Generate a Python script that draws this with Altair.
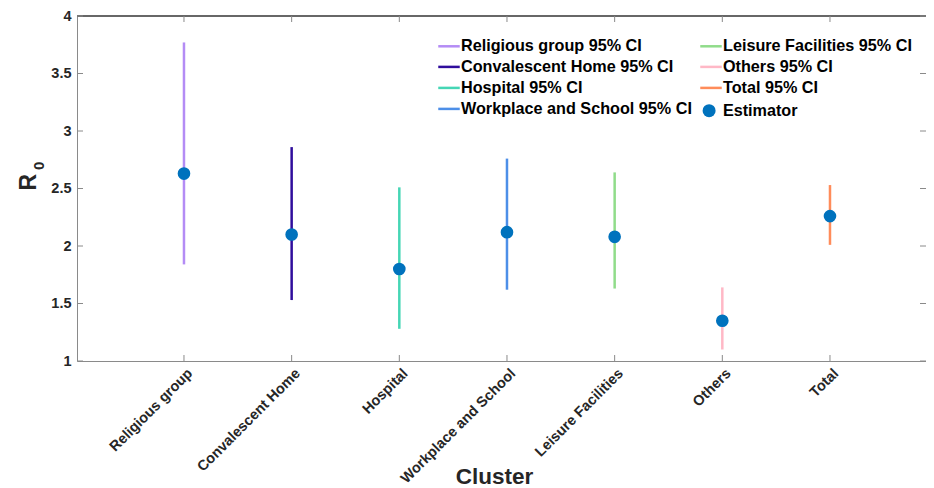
import altair as alt
import pandas as pd

# ---- data ----
clusters = ["Religious group", "Convalescent Home", "Hospital",
            "Workplace and School", "Leisure Facilities", "Others", "Total"]
estimate = [2.63, 2.10, 1.80, 2.12, 2.08, 1.35, 2.26]
ci_low = [1.84, 1.53, 1.28, 1.62, 1.63, 1.10, 2.01]
ci_high = [3.77, 2.86, 2.51, 2.76, 2.64, 1.64, 2.53]
ci_colors = ["#b48cf5", "#2f0d9c", "#45d6b5", "#4d8fe8", "#90dc8a", "#ffb8c6", "#ff8c5a"]
estimator_label = "Estimator"
estimator_color = "#0072BD"
y_ticks = [1, 1.5, 2, 2.5, 3, 3.5, 4]
y_title_main = "R"
y_title_sub = "0"

ci_labels = [c + " 95% CI" for c in clusters]
df = pd.DataFrame({"cluster": clusters, "est": estimate, "lo": ci_low, "hi": ci_high,
                   "ci": ci_labels, "pt": [estimator_label] * len(clusters)})
yt = pd.DataFrame({"v": y_ticks})
xt = pd.DataFrame({"cluster": clusters})
sub_df = pd.DataFrame({"t": [y_title_sub]})

W, H = 849, 345
FONT = "Liberation Sans"
TXT = "#262626"
AX = "#8a8a8a"

xscale = alt.Scale(type="point", domain=clusters, padding=0.9427, align=0.527)
yscale = alt.Scale(domain=[1, 4], nice=False, zero=False)

x_axis = alt.Axis(title="Cluster", labelAngle=-45, labelAlign="right", labelBaseline="middle",
                  labelPadding=10, labelOffset=6, ticks=False, tickSize=0, grid=False,
                  domainColor=AX, labelFont=FONT, labelFontSize=14.5, labelFontWeight="bold",
                  labelColor=TXT, titleFont=FONT, titleFontSize=22.5, titleFontWeight="bold",
                  titleColor=TXT, titleX=417, titleY=115, titleBaseline="middle",
                  titleAlign="center")
y_axis = alt.Axis(title=y_title_main, values=y_ticks, format="~g", ticks=False, tickSize=0,
                  grid=False, domainColor=AX, labelFont=FONT, labelFontSize=14.5,
                  labelFontWeight="bold", labelColor=TXT, labelPadding=6, labelFlush=False,
                  titleFont=FONT, titleFontSize=23, titleFontWeight="bold",
                  titleColor=TXT, titleAngle=270, titleX=-42, titleY=174, titleAlign="left",
                  titleBaseline="alphabetic")

ci_legend = alt.Legend(
    title=None, orient="none", legendX=360, legendY=17.9, columns=2, direction="vertical",
    columnPadding=3, rowPadding=-0.3, padding=0,
    symbolType="stroke", symbolSize=462, symbolStrokeWidth=2.5,
    labelFont=FONT, labelFontSize=16.2, labelFontWeight="bold", labelColor="#000000",
    labelOffset=0, labelLimit=400,
)
est_legend = alt.Legend(
    title=None, orient="none", legendX=624, legendY=86.6, padding=0,
    symbolType="circle", symbolSize=169, symbolStrokeWidth=0,
    symbolFillColor=estimator_color,
    labelFont=FONT, labelFontSize=16.2, labelFontWeight="bold", labelColor="#000000",
    labelOffset=5.7, labelLimit=400,
)

X = alt.X("cluster:N", scale=xscale, axis=x_axis, sort=clusters)

rules = alt.Chart(df).mark_rule(strokeWidth=2.5).encode(
    x=X,
    y=alt.Y("lo:Q", scale=yscale, axis=y_axis),
    y2="hi:Q",
    color=alt.Color("ci:N", scale=alt.Scale(domain=ci_labels, range=ci_colors),
                    legend=ci_legend),
)
points = alt.Chart(df).mark_circle(size=160, opacity=1).encode(
    x=X,
    y=alt.Y("est:Q", scale=yscale, axis=y_axis),
    color=alt.Color("pt:N", scale=alt.Scale(domain=[estimator_label], range=[estimator_color]),
                    legend=est_legend),
)

TK = 6
tick_left = alt.Chart(yt).mark_rule(color=AX, strokeWidth=1).encode(
    y=alt.Y("v:Q", scale=yscale, axis=y_axis), x=alt.value(0), x2=alt.value(TK))
tick_right = alt.Chart(yt).mark_rule(color=AX, strokeWidth=1).encode(
    y=alt.Y("v:Q", scale=yscale, axis=y_axis), x=alt.value(W - TK), x2=alt.value(W))
tick_bottom = alt.Chart(xt).mark_rule(color=AX, strokeWidth=1).encode(
    x=X, y=alt.value(H - TK), y2=alt.value(H))
tick_top = alt.Chart(xt).mark_rule(color=AX, strokeWidth=1).encode(
    x=X, y=alt.value(0), y2=alt.value(TK))
top_border = alt.Chart(xt).mark_rule(color="#666666", strokeWidth=1).encode(
    x=alt.value(0), x2=alt.value(W), y=alt.value(0))

# subscript "0" of the y-axis title R0
y_sub = alt.Chart(sub_df).mark_text(
    font=FONT, fontSize=15, fontWeight="bold", color=TXT, angle=270,
    align="left", baseline="alphabetic",
).encode(text="t:N", x=alt.value(-33), y=alt.value(154))

chart = alt.layer(top_border, tick_left, tick_right, tick_bottom, tick_top, rules, points, y_sub
).resolve_scale(
    color="independent"
).properties(
    width=W, height=H,
    autosize=alt.AutoSizeParams(type="none"),
    padding={"left": 69, "top": 8, "right": 0, "bottom": 127},
    background="white",
).configure_view(strokeWidth=0)

chart.save("out.html", embed_options={"renderer": "svg", "actions": False})
